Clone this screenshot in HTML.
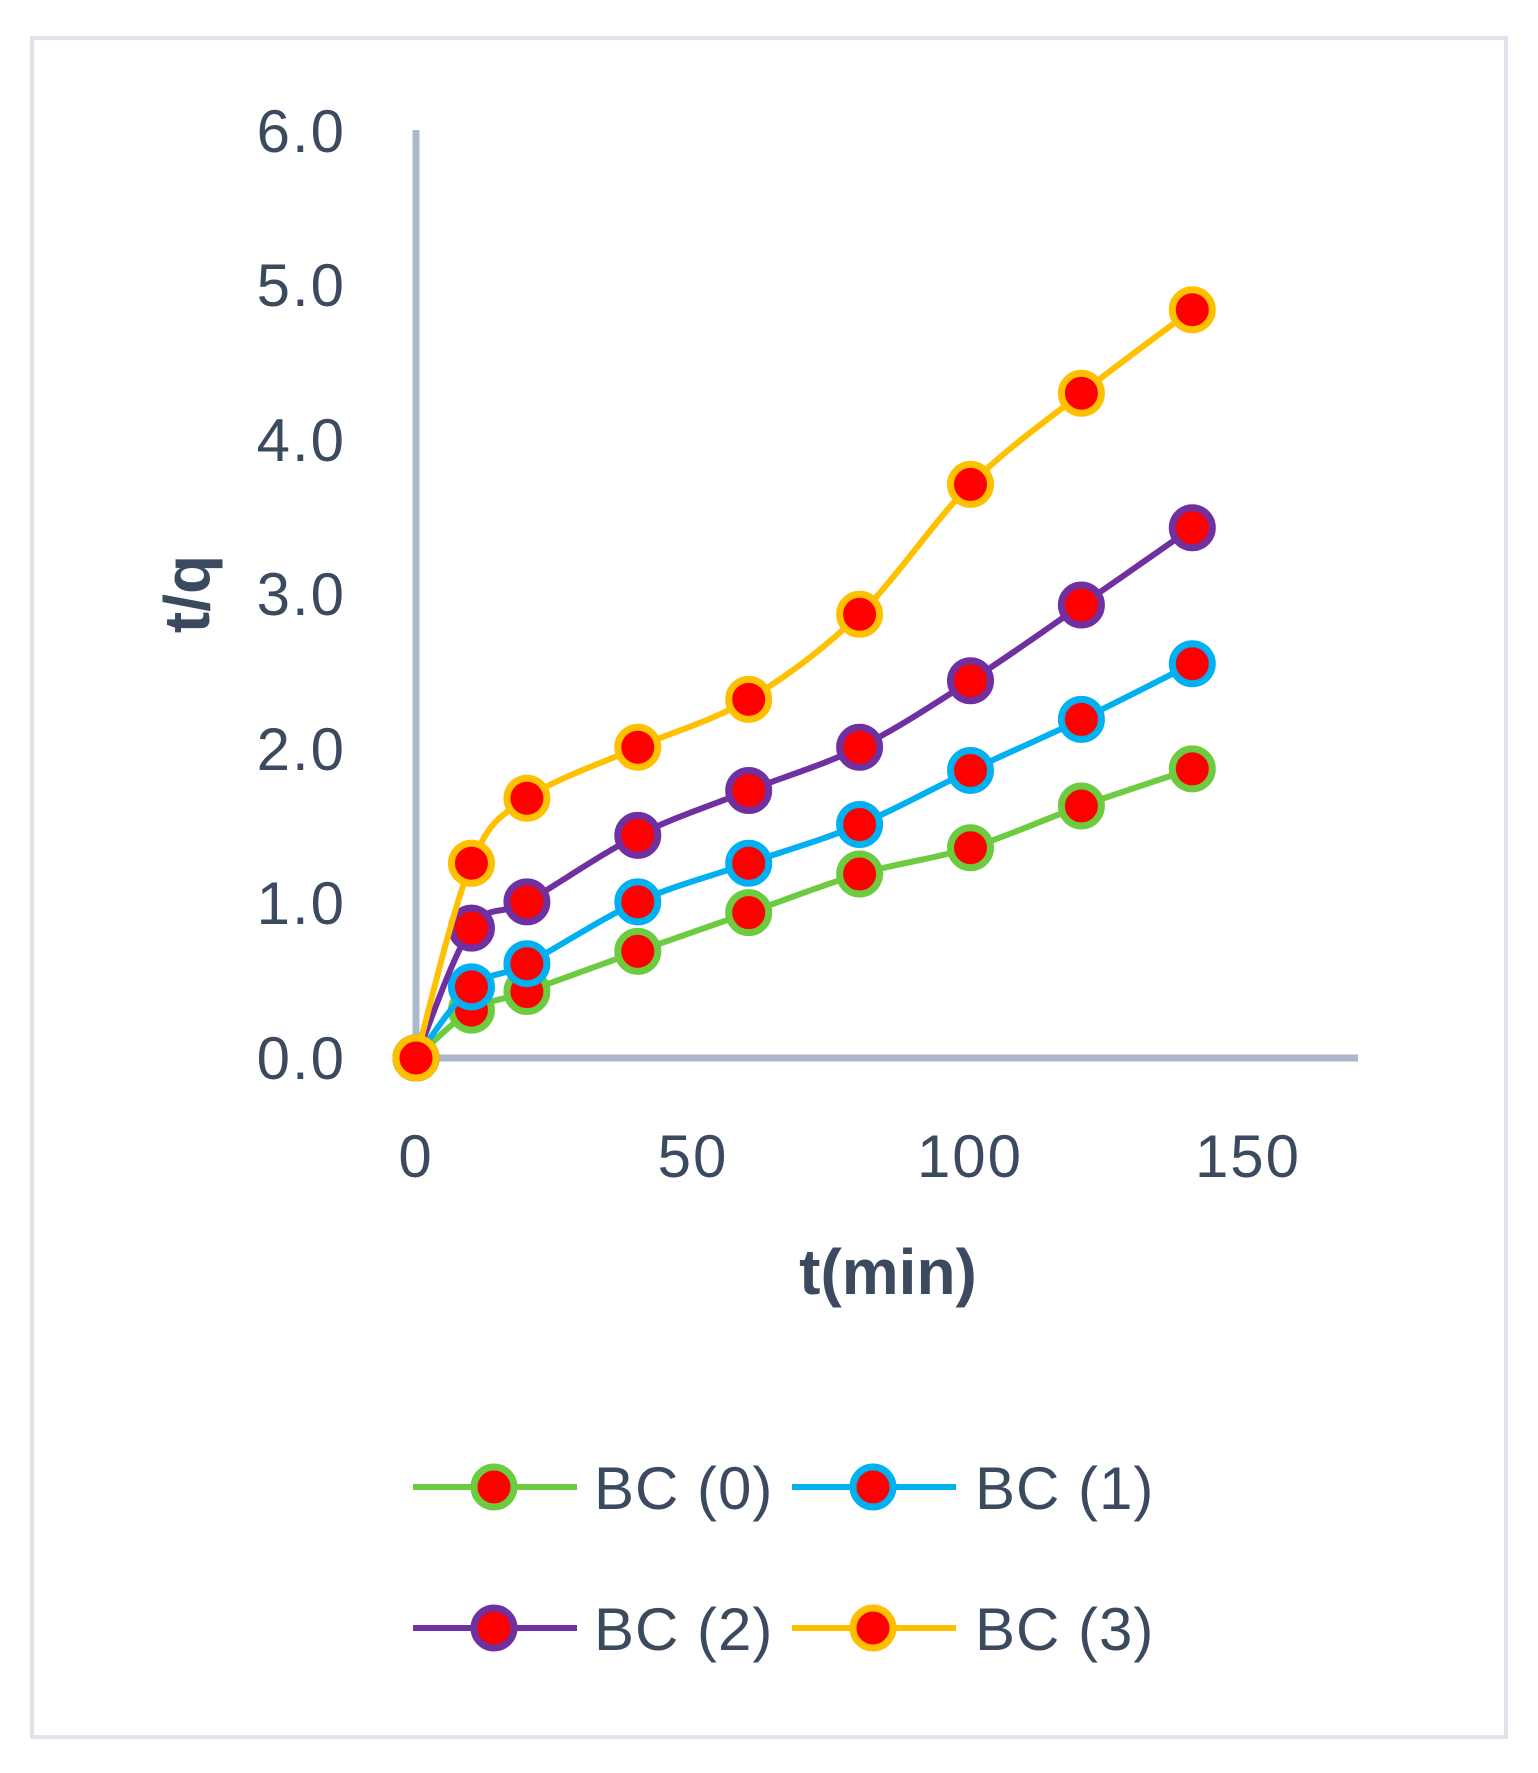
<!DOCTYPE html>
<html><head><style>
body{margin:0;background:#fff}
svg{display:block}
text{font-family:"Liberation Sans",sans-serif;fill:#3b4a5e}
</style></head><body>
<svg id="s" width="1538" height="1773" viewBox="0 0 1538 1773" xmlns="http://www.w3.org/2000/svg">
<rect x="32" y="38" width="1474" height="1699" fill="#fff" stroke="#dfe4ec" stroke-width="4"/>
<line x1="416" y1="130" x2="416" y2="1058" stroke="#adb9ca" stroke-width="7"/>
<line x1="412" y1="1058" x2="1358" y2="1058" stroke="#adb9ca" stroke-width="7"/>
<g font-size="60" text-anchor="end" letter-spacing="2">
<text x="346" y="1079">0.0</text><text x="346" y="924">1.0</text><text x="346" y="770">2.0</text>
<text x="346" y="615">3.0</text><text x="346" y="461">4.0</text><text x="346" y="306">5.0</text><text x="346" y="152">6.0</text>
</g>
<g font-size="60" text-anchor="middle" letter-spacing="2">
<text x="416" y="1177">0</text><text x="693" y="1177">50</text><text x="970" y="1177">100</text><text x="1248" y="1177">150</text>
</g>
<text x="888" y="1294" font-size="64" font-weight="bold" text-anchor="middle">t(min)</text>
<text transform="translate(209,594) rotate(-90)" font-size="64" font-weight="bold" text-anchor="middle">t/q</text>
<g id="series"></g>
<g font-size="60" letter-spacing="1">
<line x1="413" y1="1487" x2="577" y2="1487" stroke="#6ccb3e" stroke-width="6"/><circle cx="494" cy="1487" r="20" fill="#f00" stroke="#6ccb3e" stroke-width="7"/><text x="594" y="1509">BC (0)</text>
<line x1="792" y1="1487" x2="956" y2="1487" stroke="#00b0f0" stroke-width="6"/><circle cx="873" cy="1487" r="20" fill="#f00" stroke="#00b0f0" stroke-width="7"/><text x="975" y="1509">BC (1)</text>
<line x1="413" y1="1628" x2="577" y2="1628" stroke="#7030a0" stroke-width="6"/><circle cx="494" cy="1628" r="20" fill="#f00" stroke="#7030a0" stroke-width="7"/><text x="594" y="1650">BC (2)</text>
<line x1="792" y1="1628" x2="956" y2="1628" stroke="#ffc000" stroke-width="6"/><circle cx="873" cy="1628" r="20" fill="#f00" stroke="#ffc000" stroke-width="7"/><text x="975" y="1650">BC (3)</text>
</g>
</svg>
<script>
var xs=[0,10,20,40,60,80,100,120,140];
var S=[["#6ccb3e",[0,0.31,0.43,0.69,0.94,1.19,1.36,1.63,1.87]],
["#00b0f0",[0,0.46,0.61,1.01,1.26,1.51,1.86,2.19,2.55]],
["#7030a0",[0,0.84,1.01,1.44,1.73,2.01,2.44,2.93,3.43]],
["#ffc000",[0,1.26,1.68,2.01,2.32,2.87,3.71,4.30,4.84]]];
var g=document.getElementById("series"),h="";
function X(v){return 416+v*5.545}function Y(v){return 1058-v*154.6}
S.forEach(function(s){
 var p=xs.map(function(x,i){return [X(x),Y(s[1][i])]});
 var d="M"+p[0][0]+","+p[0][1];
 for(var i=0;i<p.length-1;i++){
  var p0=p[i-1]||p[i],p1=p[i],p2=p[i+1],p3=p[i+2]||p2,t=6;
  d+=" C"+(p1[0]+(p2[0]-p0[0])/t)+","+(p1[1]+(p2[1]-p0[1])/t)+" "+(p2[0]-(p3[0]-p1[0])/t)+","+(p2[1]-(p3[1]-p1[1])/t)+" "+p2[0]+","+p2[1];
 }
 h+='<path d="'+d+'" fill="none" stroke="'+s[0]+'" stroke-width="6"/>';
 p.forEach(function(q){h+='<circle cx="'+q[0]+'" cy="'+q[1]+'" r="20" fill="#f00" stroke="'+s[0]+'" stroke-width="7"/>'});
});
g.innerHTML=h;
</script>
</body></html>
